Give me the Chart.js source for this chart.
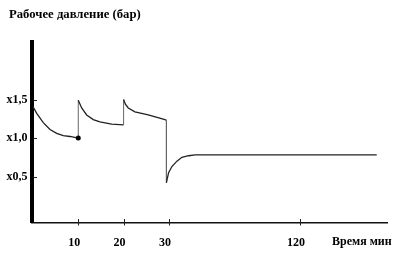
<!DOCTYPE html>
<html>
<head>
<meta charset="utf-8">
<script src="https://cdn.jsdelivr.net/npm/chart.js@4"></script>
<style>
  html, body { margin: 0; padding: 0; background: #fff; }
  #c { display: block; }
</style>
</head>
<body>
<canvas id="c" width="400" height="257"></canvas>
<script>
// ---- data (time in minutes, pressure as multiple of working pressure) ----
const timeMin  = [0, 0.83, 2.28, 3.76, 5.24, 6.69, 8.17, 10,
                  10, 10.75, 11.85, 13.31, 14.78, 17.36, 20,
                  20, 20.4, 21.03, 22.5, 25.44, 29.12, 29.45,
                  29.45, 29.93, 32.06, 35.49, 38.92, 43.5, 48.05, 172.6];
const pressure = [1.41, 1.32, 1.20, 1.11, 1.06, 1.03, 1.02, 1.00,
                  1.49, 1.39, 1.30, 1.24, 1.21, 1.18, 1.17,
                  1.50, 1.44, 1.39, 1.34, 1.30, 1.24, 1.23,
                  0.42, 0.55, 0.63, 0.70, 0.75, 0.77, 0.78, 0.78];
const markTime = [10];
const markPressure = [1.00];

const xTickValues = [10, 20, 30, 120];
const xTickLabels = ['10', '20', '30', '120'];
const yTickValues = [0.5, 1.0, 1.5];
const yTickLabels = ['x0,5', 'x1,0', 'x1,5'];

const titleText = 'Рабочее давление (бар)';
const xAxisText = 'Время мин';

// ---- broken time axis: 0..30 min expanded, 30..180 min compressed ----
const BREAK_AT = 30;
const BREAK_FRACTION = 0.386;

class BrokenLinearScale extends Chart.LinearScale {
  _frac(v) {
    const min = this.min, max = this.max;
    return v <= BREAK_AT
      ? (v - min) / (BREAK_AT - min) * BREAK_FRACTION
      : BREAK_FRACTION + (v - BREAK_AT) / (max - BREAK_AT) * (1 - BREAK_FRACTION);
  }
  getPixelForValue(v) {
    if (v === null || v === undefined) return NaN;
    return this.getPixelForDecimal(this._frac(v));
  }
  getValueForPixel(p) {
    const d = this.getDecimalForPixel(p);
    const min = this.min, max = this.max;
    return d <= BREAK_FRACTION
      ? min + d / BREAK_FRACTION * (BREAK_AT - min)
      : BREAK_AT + (d - BREAK_FRACTION) / (1 - BREAK_FRACTION) * (max - BREAK_AT);
  }
}
BrokenLinearScale.id = 'brokenLinear';
BrokenLinearScale.defaults = Chart.LinearScale.defaults;
Chart.register(BrokenLinearScale);

const FONT = { family: '"Liberation Serif", "DejaVu Serif", serif', size: 12, weight: 'bold' };

const decor = {
  id: 'decor',
  afterDraw(chart) {
    const ctx = chart.ctx;
    const { left, bottom } = chart.chartArea;
    const xs = chart.scales.x, ys = chart.scales.y;
    ctx.save();
    ctx.strokeStyle = '#222';
    ctx.lineWidth = 1;
    yTickValues.forEach(v => {
      const y = Math.round(ys.getPixelForValue(v)) + 0.5;
      ctx.beginPath(); ctx.moveTo(left + 1.5, y); ctx.lineTo(left + 5.5, y); ctx.stroke();
    });
    xTickValues.forEach(v => {
      const x = Math.round(xs.getPixelForValue(v)) + 0.5;
      ctx.beginPath(); ctx.moveTo(x, bottom - 3.5); ctx.lineTo(x, bottom + 3); ctx.stroke();
    });
    ctx.fillStyle = '#000';
    ctx.textBaseline = 'middle';
    ctx.textAlign = 'left';
    ctx.font = 'bold 12.7px "Liberation Serif", "DejaVu Serif", serif';
    ctx.fillText(titleText, 9, 15);
    ctx.font = 'bold 12px "Liberation Serif", "DejaVu Serif", serif';
    ctx.fillText(xAxisText, 332, 242);
    ctx.restore();
  }
};

new Chart(document.getElementById('c'), {
  type: 'line',
  data: {
    datasets: [
      {
        data: markTime.map((t, i) => ({ x: t, y: markPressure[i] })),
        showLine: false,
        pointRadius: 2.5,
        pointBorderWidth: 0,
        pointBackgroundColor: '#000',
        pointBorderColor: '#000',
        order: 0
      },
      {
        data: timeMin.map((t, i) => ({ x: t, y: pressure[i] })),
        borderColor: '#222',
        borderWidth: 1.3,
        pointRadius: 0,
        tension: 0,
        fill: false,
        order: 1,
        segment: {
          borderColor: c => c.p0.parsed.x === c.p1.parsed.x ? '#666' : '#222',
          borderWidth: c => c.p0.parsed.x === c.p1.parsed.x ? 1 : 1.3
        }
      }
    ]
  },
  options: {
    responsive: false,
    animation: false,
    layout: { padding: { left: 0, right: 12.5, top: 42, bottom: 0 } },
    plugins: { legend: { display: false }, tooltip: { enabled: false }, title: { display: false } },
    scales: {
      x: {
        type: 'brokenLinear',
        min: -0.32,
        max: 180,
        afterFit: s => { s.height = 34.5; },
        afterBuildTicks: s => { s.ticks = xTickValues.map(v => ({ value: v })); },
        grid: { display: true, drawOnChartArea: false, drawTicks: false },
        border: { display: true, color: '#111', width: 1.5 },
        ticks: {
          autoSkip: false,
          maxRotation: 0,
          padding: 13,
          labelOffset: -4,
          color: '#000',
          font: FONT,
          callback: (v, i) => xTickLabels[i]
        }
      },
      y: {
        type: 'linear',
        min: -0.097,
        max: 2.247,
        afterFit: s => { s.width = 31.5; },
        afterBuildTicks: s => { s.ticks = yTickValues.map(v => ({ value: v })); },
        grid: { display: true, drawOnChartArea: false, drawTicks: false },
        border: { display: true, color: '#000', width: 4 },
        ticks: {
          padding: 4,
          color: '#000',
          font: FONT,
          callback: (v, i) => yTickLabels[i]
        }
      }
    }
  },
  plugins: [decor]
});
</script>
</body>
</html>
